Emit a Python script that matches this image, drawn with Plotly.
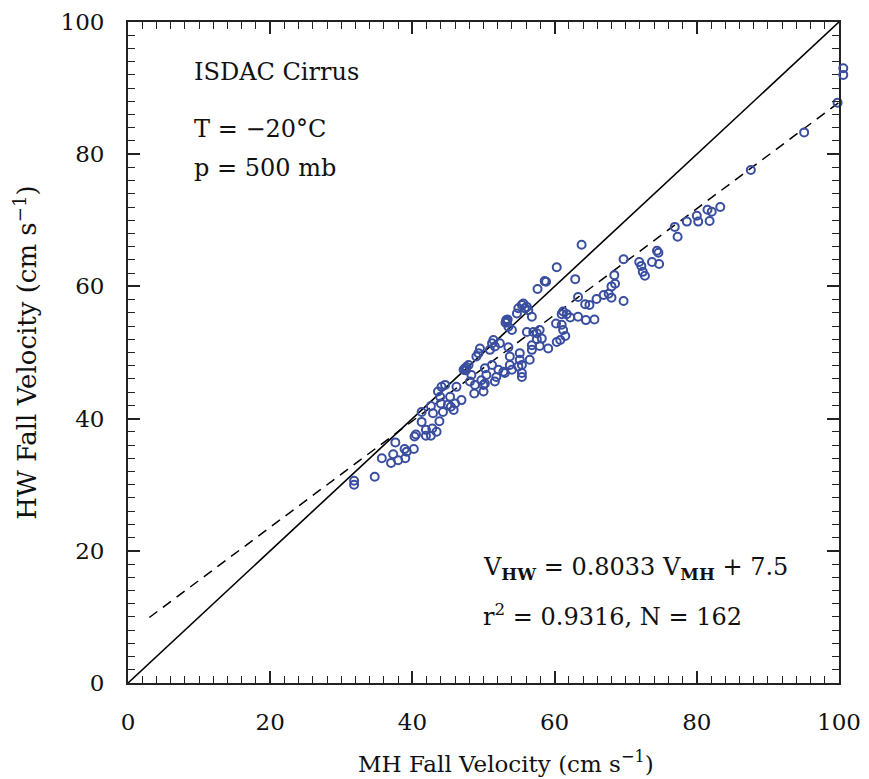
import plotly.graph_objects as go

# Fall velocities (cm/s): MH (x) vs HW (y)
mh = [31.8, 31.8, 34.7, 35.7, 37.0, 37.3, 37.6, 38.0, 39.0, 38.9, 39.2, 40.2, 40.3, 40.5, 41.3, 41.3,
      41.9, 41.9, 42.6, 42.8, 43.4, 42.9, 42.6, 43.8, 44.3, 44.0, 43.6, 43.9, 44.6, 44.1, 45.4, 45.8, 45.3,
      45.0, 46.0, 46.2, 46.9, 47.2, 47.4, 47.6, 47.5, 47.9, 48.1, 48.3, 48.7, 48.8, 49.0, 49.3, 49.5,
      49.7, 50.0, 50.0, 50.2, 50.4, 50.2, 50.9, 51.2, 51.2, 51.4, 51.6, 51.6, 51.8, 52.1, 52.3, 52.8,
      53.0, 53.3, 53.1, 53.4, 53.2, 53.5, 53.7, 53.7, 54.0, 54.0, 54.7, 54.9, 55.4, 55.1, 55.1, 55.4,
      55.4, 55.8, 56.3, 56.5, 56.8, 57.0, 56.8,
      63.8, 60.3, 58.8, 58.6, 57.6, 62.9, 63.3, 64.3, 64.9, 65.9, 66.9, 67.6, 68.0, 68.5, 68.4, 61.2,
      61.7, 62.2, 61.0, 63.3, 64.4, 65.6, 60.2, 61.0, 61.2, 61.5, 60.8, 60.3, 57.5, 57.9, 58.2, 57.5,
      57.9, 59.1, 56.8, 56.1, 53.5, 54.9, 55.4, 55.6, 56.1,
      83.3, 82.1, 81.5, 81.8, 80.2, 80.0, 78.6, 76.9, 77.3, 74.4, 74.6, 73.7, 74.7, 71.9, 72.2, 72.4,
      72.7, 69.7, 68.0, 69.7,
      99.8, 95.1, 87.6]
hw = [30.6, 30.0, 31.2, 34.0, 33.3, 34.6, 36.4, 33.7, 34.0, 35.4, 35.0, 35.4, 37.3, 37.6, 39.5, 41.0,
      38.3, 37.4, 37.4, 38.5, 38.0, 40.8, 41.9, 39.6, 41.0, 42.3, 44.1, 43.3, 45.1, 44.8, 41.8, 41.3, 43.3,
      42.1, 42.3, 44.8, 42.8, 47.4, 47.6, 47.8, 47.3, 48.1, 45.6, 46.6, 43.8, 45.1, 49.4, 49.9, 50.6,
      45.8, 45.1, 44.1, 45.3, 46.6, 47.6, 50.4, 48.1, 51.4, 51.9, 50.9, 45.6, 46.3, 47.4, 51.4, 47.1,
      46.9, 54.7, 54.5, 55.0, 54.9, 53.9, 49.4, 48.1, 47.4, 53.4, 55.9, 56.7, 57.2, 49.9, 48.9, 48.1,
      46.9, 56.7, 56.4, 48.9, 55.4, 53.1, 51.1,
      66.3, 62.9, 60.7, 60.8, 59.6, 61.1, 58.4, 57.3, 57.2, 58.1, 58.7, 58.9, 60.0, 60.4, 61.7, 56.2,
      55.8, 55.3, 55.8, 55.4, 54.9, 55.0, 54.4, 54.2, 53.4, 52.5, 51.9, 51.6, 52.9, 53.4, 52.1, 52.0,
      51.0, 50.6, 50.4, 53.1, 50.8, 47.9, 46.3, 57.4, 56.9,
      72.0, 71.3, 71.6, 69.9, 69.8, 70.7, 69.8, 69.0, 67.5, 65.4, 65.1, 63.7, 63.4, 63.7, 63.1, 62.2,
      61.6, 64.1, 58.3, 57.8,
      87.8, 83.3, 77.6]

# points just beyond the right edge of the frame (drawn unclipped in the original)
mh_edge = [100.6, 100.6]
hw_edge = [93.0, 92.0]

slope = 0.8033
intercept = 7.5
fit_x = [3, 100]
one_x = [0, 100]

FONT = "DejaVu Serif"
BLUE = "#3a4ea0"

# the page body adds an 8px margin, so the figure is drawn 8px in from the window edge
W, H = 861, 771
L, R, T, B = 120, 20, 14, 96
frame_w = 711
plot_w = W - L - R
dom_end = frame_w / plot_w
x2_max = 100 * plot_w / frame_w

fig = go.Figure()
fig.add_trace(go.Scatter(x=one_x, y=one_x, mode="lines",
                         line=dict(color="black", width=1.6), hoverinfo="skip"))
fig.add_trace(go.Scatter(x=fit_x, y=[slope * v + intercept for v in fit_x], mode="lines",
                         line=dict(color="black", width=1.5, dash="10px,7px"), hoverinfo="skip"))
marker = dict(symbol="circle-open", size=8, color=BLUE, line=dict(width=2, color=BLUE))
fig.add_trace(go.Scatter(x=mh, y=hw, mode="markers", cliponaxis=False, marker=marker))
fig.add_trace(go.Scatter(x=mh_edge, y=hw_edge, mode="markers", cliponaxis=False, marker=marker,
                         xaxis="x2", yaxis="y2"))

axis_common = dict(
    range=[0, 100], tickvals=[0, 20, 40, 60, 80, 100], ticks="inside", ticklen=12,
    tickwidth=1.5, tickcolor="#222", showline=True, linecolor="#222", linewidth=1.8,
    mirror="allticks", showgrid=False, zeroline=False, automargin=False,
    tickfont=dict(family=FONT, size=23, color="#111"),
    minor=dict(dtick=2, ticks="inside", ticklen=7, tickwidth=1.3, tickcolor="#222", showgrid=False),
)

fig.update_layout(
    width=W, height=H,
    margin=dict(l=L, r=R, t=T, b=B),
    plot_bgcolor="rgba(0,0,0,0)", paper_bgcolor="white",
    showlegend=False,
    font=dict(family=FONT, size=22, color="#111"),
    xaxis=dict(**axis_common, domain=[0, dom_end], ticklabelstandoff=17),
    yaxis=dict(**axis_common, ticklabelstandoff=17,
               title=dict(text="HW Fall Velocity (cm s<sup>−1</sup>)",
                          font=dict(family=FONT, size=26), standoff=16)),
    xaxis2=dict(domain=[0, 1], range=[0, x2_max], visible=False, anchor="y2"),
    yaxis2=dict(domain=[0, 1], range=[0, 100], visible=False, anchor="x2"),
)

# x-axis title (placed slightly right of the frame centre, as in the original)
fig.add_annotation(x=(506 - 8 - L) / plot_w, y=0, xref="paper", yref="paper", yshift=-79,
                   text="MH Fall Velocity (cm s<sup>−1</sup>)", showarrow=False,
                   xanchor="center", yanchor="middle", font=dict(family=FONT, size=23, color="#111"))

notes = [
    (9.0, 92.4, "ISDAC Cirrus"),
    (9.0, 83.8, "T = −20°C"),
    (9.0, 77.9, "p = 500 mb"),
    (49.6, 17.3, "V<sub><b>HW</b></sub> = 0.8033 V<sub><b>MH</b></sub> + 7.5"),
    (49.6, 10.3, "r<sup>2</sup> = 0.9316, N = 162"),
]
for x, y, t in notes:
    fig.add_annotation(x=x, y=y, xref="x", yref="y", text=t, showarrow=False,
                       xanchor="left", yanchor="middle",
                       font=dict(family=FONT, size=24, color="#111"))

fig.write_html("out.html")
